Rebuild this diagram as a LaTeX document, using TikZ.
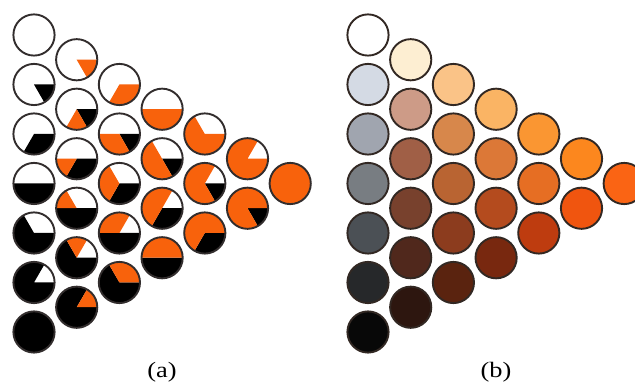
\documentclass[tikz,border=0pt]{standalone}
\usepackage{fontspec}
\setmainfont{Liberation Serif}
\definecolor{orng}{RGB}{248,98,12}
\definecolor{rimA}{RGB}{50,45,45}
\definecolor{rimB}{RGB}{50,40,35}
% (b) mixed colours, b<c>-<r>
\definecolor{b0-0}{RGB}{255,255,255}
\definecolor{b0-1}{RGB}{212,218,228}
\definecolor{b0-2}{RGB}{160,165,175}
\definecolor{b0-3}{RGB}{120,125,130}
\definecolor{b0-4}{RGB}{75,80,85}
\definecolor{b0-5}{RGB}{38,40,42}
\definecolor{b0-6}{RGB}{8,8,8}
\definecolor{b1-0}{RGB}{253,238,210}
\definecolor{b1-1}{RGB}{205,155,135}
\definecolor{b1-2}{RGB}{160,95,70}
\definecolor{b1-3}{RGB}{120,65,45}
\definecolor{b1-4}{RGB}{80,40,28}
\definecolor{b1-5}{RGB}{45,22,15}
\definecolor{b2-0}{RGB}{250,195,135}
\definecolor{b2-1}{RGB}{215,135,75}
\definecolor{b2-2}{RGB}{185,100,50}
\definecolor{b2-3}{RGB}{140,60,30}
\definecolor{b2-4}{RGB}{90,35,15}
\definecolor{b3-0}{RGB}{250,180,100}
\definecolor{b3-1}{RGB}{220,120,55}
\definecolor{b3-2}{RGB}{180,75,30}
\definecolor{b3-3}{RGB}{120,40,15}
\definecolor{b4-0}{RGB}{250,150,50}
\definecolor{b4-1}{RGB}{230,110,35}
\definecolor{b4-2}{RGB}{190,60,15}
\definecolor{b5-0}{RGB}{252,135,30}
\definecolor{b5-1}{RGB}{240,85,15}
\definecolor{b6-0}{RGB}{250,100,20}
\tikzset{
  rimline/.style={draw=rimA, line width=1.9pt},
  rimlineb/.style={draw=rimB, line width=1.9pt},
  caption/.style={font=\fontsize{22}{26}\selectfont, xscale=1.2, inner sep=0pt}
}
\begin{document}
\begin{tikzpicture}[x=1pt,y=1pt]
\useasboundingbox (0,0) rectangle (635,385);
\pgfmathsetmacro{\R}{20.6}
% (a) pie compositions: c = orange sixths, r = black sixths
\foreach \c in {0,...,6}{
  \pgfmathtruncatemacro{\rmax}{6-\c}
  \foreach \r in {0,...,\rmax}{
    \pgfmathsetmacro{\cx}{34+42.7*\c}
    \pgfmathsetmacro{\cy}{385-(35+49.5*\r+24.75*\c)}
    \coordinate (a-\c-\r) at (\cx,\cy);
    \fill[white] (a-\c-\r) circle[radius=\R];
    \ifnum\r>0
      \fill[black] (a-\c-\r) -- ++(0:\R) arc[start angle=0, end angle={-60*\r}, radius=\R] -- cycle;
    \fi
    \ifnum\c>0
      \fill[orng] (a-\c-\r) -- ++({-60*\r}:\R) arc[start angle={-60*\r}, end angle={-60*(\r+\c)}, radius=\R] -- cycle;
    \fi
    \draw[rimline] (a-\c-\r) circle[radius=\R];
    % (b) mixed colour
    \coordinate (b-\c-\r) at ({\cx+334},\cy);
    \filldraw[rimlineb, fill=b\c-\r] (b-\c-\r) circle[radius=\R];
  }
}
\node[caption] (capa) at (162,13) {(a)};
\node[caption] (capb) at (496,13) {(b)};
\end{tikzpicture}
\end{document}
